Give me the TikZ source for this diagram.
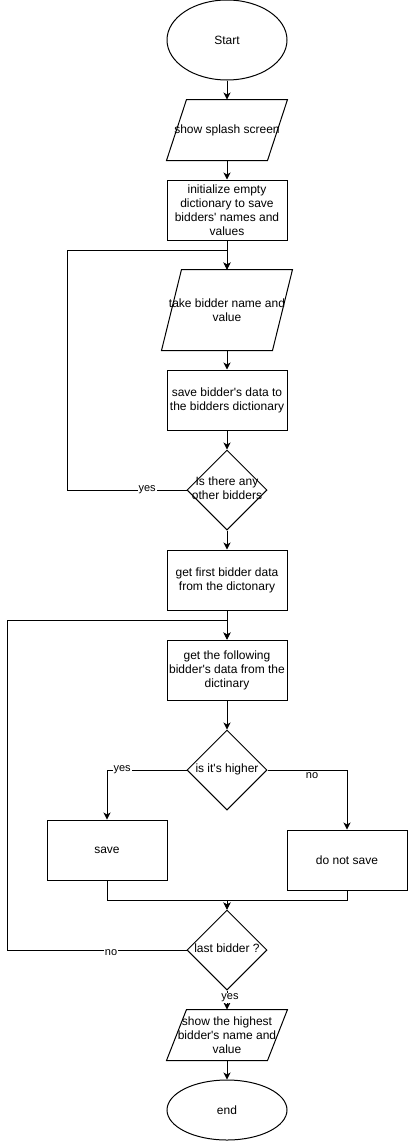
\documentclass[tikz,border=0pt]{standalone}
\usepackage{fontspec}
\setmainfont{Liberation Sans}
\usetikzlibrary{shapes.geometric,arrows.meta}
\newcommand\dtxt[1]{\makebox[0pt]{\begin{tabular}{@{}c@{}}#1\end{tabular}}}
\newcommand\ap{\textquotesingle}
\begin{document}
\begin{tikzpicture}[x=1pt,y=-1pt,line width=1pt,
  base/.style={inner sep=0pt,align=center,font=\fontsize{12}{14}\selectfont},
  term/.style={base,ellipse,draw,minimum width=120pt,minimum height=80pt},
  proc/.style={base,rectangle,draw,minimum width=120pt,minimum height=60pt},
  io/.style={base,rectangle,minimum width=120pt,minimum height=60pt},
  dec/.style={inner sep=0pt,font=\fontsize{12}{14}\selectfont,diamond,draw,minimum width=80pt,minimum height=80pt},
  arr/.style={-{Stealth[length=7pt,width=7pt,inset=2pt]}},
  lbl/.style={fill=white,inner sep=1pt,font=\fontsize{11}{13}\selectfont}]
\useasboundingbox (0,0) rectangle (408,1141);
\fill[white] (0,0) rectangle (408,1141);

\node[term] (start) at (227,40) {Start};
\node[io] (splash) at (227,130) {show splash screen};
\node[proc] (init) at (227,210) {initialize empty\\dictionary to save\\bidders\ap{} names and\\values};
\node[io,minimum width=130pt,minimum height=80pt] (take) at (227,310) {take bidder name and\\value};
\node[proc] (savedata) at (227,400) {save bidder\ap{}s data to\\the bidders dictionary};
\node[dec] (more) at (227,490) {\dtxt{Is there any\\other bidders}};
\node[proc] (first) at (227,580) {get first bidder data\\from the dictonary};
\node[proc] (follow) at (227,670) {get the following\\bidder\ap{}s data from the\\dictinary};
\node[dec] (higher) at (227,770) {\dtxt{is it\ap{}s higher}};
\node[proc] (save) at (107,850) {save};
\node[proc] (nosave) at (347,860) {do not save};
\node[dec] (last) at (227,950) {\dtxt{last bidder ?}};
\node[io,minimum height=50pt] (show) at (227,1035) {show the highest\\bidder\ap{}s name and\\value};
\node[term,minimum height=60pt] (end) at (227,1110) {end};

% parallelograms
\draw ([xshift=20pt]splash.north west) -- (splash.north east) -- ([xshift=-20pt]splash.south east) -- (splash.south west) -- cycle;
\draw ([xshift=20pt]take.north west) -- (take.north east) -- ([xshift=-20pt]take.south east) -- (take.south west) -- cycle;
\draw ([xshift=20pt]show.north west) -- (show.north east) -- ([xshift=-20pt]show.south east) -- (show.south west) -- cycle;

\coordinate (j1) at (227,250);
\coordinate (c1) at (67,250);
\coordinate (j2) at (227,620);
\coordinate (c2) at (7,620);
\coordinate (m) at (227,900);

\draw[arr] (start.south) -- (splash.north);
\draw[arr] (splash.south) -- (init.north);
\draw[arr] (init.south) -- (take.north);
\draw[arr] (take.south) -- (savedata.north);
\draw[arr] (savedata.south) -- (more.north);
\draw[arr] (more.west) -- node[lbl,pos=0.33]{yes} (more.west -| c1) -- (c1) -- (j1) -- (take.north);
\draw[arr] (more.south) -- (first.north);
\draw[arr] (first.south) -- (follow.north);
\draw[arr] (follow.south) -- (higher.north);
\draw[arr] (higher.west) -- node[lbl,pos=0.81]{yes} (higher.west -| save.north) -- (save.north);
\draw[arr] (higher.east) -- node[lbl,pos=0.56,yshift=-6pt]{no} (higher.east -| nosave.north) -- (nosave.north);
\draw[arr] (save.south) |- (m) -- (last.north);
\draw[arr] (nosave.south) |- (m) -- (last.north);
\draw[arr] (last.west) -- node[lbl,pos=0.42,yshift=-3pt]{no} (last.west -| c2) -- (c2) -- (j2) -- (follow.north);
\draw[arr] (last.south) -- node[lbl,pos=0.4,xshift=3pt]{yes} (show.north);
\draw[arr] (show.south) -- (end.north);
\end{tikzpicture}
\end{document}
